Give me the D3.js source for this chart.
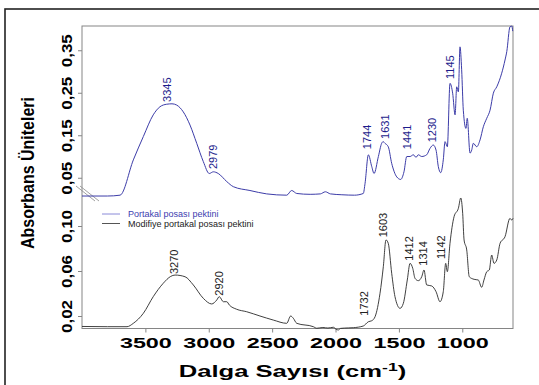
<!DOCTYPE html>
<html>
<head>
<meta charset="utf-8">
<script src="https://cdn.jsdelivr.net/npm/d3@7"></script>
<style>
  body { margin: 0; background: #fff; }
  svg { display: block; font-family: "Liberation Sans", Arial, sans-serif; }
</style>
</head>
<body>
<svg width="539" height="385"></svg>
<script>
// ---- data ----
// top spectrum: Portakal posası pektini (blue)
const topWn = [4000, 3800, 3700, 3595, 3516, 3438, 3385, 3332, 3290, 3253, 3201, 3148, 3095, 3043, 2996, 2964, 2925,
  2858, 2806, 2675, 2543, 2385, 2346, 2306, 2200, 2120, 2080, 2040, 1950, 1850, 1781, 1767, 1741, 1714, 1696, 1662,
  1636, 1625, 1610, 1584, 1557, 1517, 1486, 1460, 1438, 1412, 1386, 1365, 1347, 1320, 1281, 1255, 1229, 1207, 1189,
  1170, 1150, 1136, 1118, 1097, 1076, 1057, 1044, 1031, 1018, 1005, 992, 971, 961, 939, 926, 913, 886, 860, 834,
  807, 781, 755, 728, 689, 663, 649, 624, 610, 602];
const topAbs = [0.007, 0.007, 0.009, 0.092, 0.147, 0.198, 0.217, 0.223, 0.224, 0.221, 0.205, 0.174, 0.131, 0.088,
  0.060, 0.064, 0.060, 0.041, 0.029, 0.020, 0.012, 0.009, 0.020, 0.013, 0.011, 0.012, 0.017, 0.012, 0.010, 0.009,
  0.013, 0.037, 0.104, 0.076, 0.060, 0.100, 0.131, 0.135, 0.131, 0.123, 0.084, 0.052, 0.046, 0.064, 0.100, 0.100,
  0.104, 0.098, 0.104, 0.100, 0.104, 0.119, 0.127, 0.115, 0.076, 0.062, 0.092, 0.135, 0.123, 0.272, 0.249, 0.198,
  0.264, 0.252, 0.358, 0.304, 0.209, 0.166, 0.190, 0.108, 0.115, 0.131, 0.123, 0.139, 0.170, 0.190, 0.209, 0.249,
  0.264, 0.296, 0.327, 0.347, 0.405, 0.407, 0.395];

// bottom spectrum: Modifiye portakal posası pektini (black)
const botWn = [4000, 3800, 3645, 3595, 3516, 3438, 3359, 3300, 3266, 3187, 3122, 3043, 2977, 2937, 2917, 2885, 2858,
  2838, 2780, 2701, 2596, 2491, 2385, 2354, 2333, 2306, 2175, 2148, 2100, 2060, 2017, 1995, 1978, 1960, 1900, 1860,
  1781, 1741, 1714, 1688, 1649, 1623, 1602, 1584, 1557, 1531, 1491, 1465, 1434, 1412, 1391, 1373, 1347, 1320, 1302,
  1281, 1241, 1207, 1176, 1150, 1131, 1118, 1097, 1065, 1031, 1012, 997, 986, 965, 945, 907, 874, 847, 829, 807, 787,
  768, 750, 728, 702, 663, 624, 610, 600];
const botAbs = [0.0107, 0.0105, 0.0105, 0.0135, 0.0224, 0.0372, 0.0491, 0.0552, 0.0564, 0.0549, 0.0476, 0.0357,
  0.0307, 0.0342, 0.0372, 0.0327, 0.0327, 0.0298, 0.0260, 0.0238, 0.0200, 0.0164, 0.0135, 0.0200, 0.0180, 0.0135,
  0.0105, 0.0091, 0.0098, 0.0093, 0.0100, 0.0082, 0.0076, 0.0090, 0.0094, 0.0096, 0.0111, 0.0149, 0.0158, 0.0194,
  0.0402, 0.0638, 0.0876, 0.0846, 0.0580, 0.0372, 0.0268, 0.0313, 0.0520, 0.0668, 0.0624, 0.0535, 0.0514, 0.0549,
  0.0609, 0.0476, 0.0467, 0.0416, 0.0327, 0.0416, 0.0668, 0.0594, 0.0846, 0.1083, 0.1157, 0.1249, 0.1113, 0.0876,
  0.0787, 0.0549, 0.0526, 0.0520, 0.0455, 0.0520, 0.0594, 0.0609, 0.0742, 0.0668, 0.0698, 0.0846, 0.0905, 0.1068,
  0.1053, 0.1068];

// peak annotations (text, where it sits in wavenumber / absorbance)
const topPeakText = ["3345", "2979", "1744", "1631", "1441", "1230", "1145"];
const topPeakWn = [3325, 2967, 1754, 1610, 1436, 1241, 1093];
const topPeakAbs = [0.226, 0.068, 0.115, 0.139, 0.115, 0.131, 0.280];
const botPeakText = ["3270", "2920", "1732", "1603", "1412", "1314", "1142"];
const botPeakWn = [3270, 2921, 1775, 1623, 1420, 1312, 1169];
const botPeakAbs = [0.0564, 0.0372, 0.0194, 0.0891, 0.0683, 0.0638, 0.0698];

const xTicks = [3500, 3000, 2500, 2000, 1500, 1000];
const topTicks = [0.05, 0.15, 0.25, 0.35];
const botTicks = [0.02, 0.06, 0.10];
const seriesNames = ["Portakal posası pektini", "Modifiye portakal posası pektini"];

// ---- layout ----
const plot = { left: 82, right: 513, top: 26, bottom: 328.5 };
const blue = "#3c3ca8", dark = "#2a2a2a", frame = "#858585";

const svg = d3.select("svg");

// outer frame (runs off the right/bottom edge)
svg.append("rect")
  .attr("x", 5).attr("y", 9).attr("width", 600).attr("height", 500)
  .attr("fill", "none").attr("stroke", "#222").attr("stroke-width", 1.6);

const x = d3.scaleLinear().domain([4000, 600]).range([plot.left, plot.right]);
const yTop = d3.scaleLinear().domain([0, 0.35]).range([199, 50.25]);
const yBot = d3.scaleLinear().domain([0, 0.10]).range([338.5, 226]);

const comma = d => d.toFixed(2).replace(".", ",");

// x axis
const gx = svg.append("g")
  .attr("transform", `translate(0,${plot.bottom})`)
  .call(d3.axisBottom(x).tickValues(xTicks).tickSize(4).tickFormat(d3.format("d")));
gx.select(".domain").remove();
gx.selectAll("line").attr("stroke", frame);
gx.selectAll("text")
  .attr("y", 19.5).attr("dy", null)
  .attr("fill", "#000")
  .style("font-size", "14px").style("font-weight", "bold")
  .attr("textLength", 52).attr("lengthAdjust", "spacingAndGlyphs");

// y axes (two stacked ranges)
function leftAxis(scale, ticks) {
  const g = svg.append("g")
    .attr("transform", `translate(${plot.left},0)`)
    .call(d3.axisLeft(scale).tickValues(ticks).tickSize(4).tickFormat(comma));
  g.select(".domain").remove();
  g.selectAll("line").attr("stroke", frame);
  g.selectAll("text")
    .attr("x", null).attr("dy", "0.35em")
    .attr("text-anchor", "middle")
    .attr("transform", "translate(-15,0) rotate(-90)")
    .attr("fill", "#000")
    .style("font-size", "14.5px").style("font-weight", "bold")
    .attr("textLength", 33).attr("lengthAdjust", "spacingAndGlyphs");
}
leftAxis(yTop, topTicks);
leftAxis(yBot, botTicks);

// plot frame
svg.append("rect")
  .attr("x", plot.left).attr("y", plot.top)
  .attr("width", plot.right - plot.left).attr("height", plot.bottom - plot.top)
  .attr("fill", "none").attr("stroke", frame).attr("stroke-width", 1);

// axis break mark
[0, 4].forEach(off => {
  svg.append("line")
    .attr("x1", 76 + off).attr("y1", 186)
    .attr("x2", 95 + off).attr("y2", 201)
    .attr("stroke", "#8a8a8a").attr("stroke-width", 0.8);
});

// spectra
const topData = topWn.map((w, i) => [w, topAbs[i]]);
const botData = botWn.map((w, i) => [w, botAbs[i]]);

svg.append("path")
  .datum(topData)
  .attr("fill", "none").attr("stroke", blue).attr("stroke-width", 1)
  .attr("d", d3.line().x(d => x(d[0])).y(d => yTop(d[1])).curve(d3.curveMonotoneX));

svg.append("path")
  .datum(botData)
  .attr("fill", "none").attr("stroke", dark).attr("stroke-width", 0.9)
  .attr("d", d3.line().x(d => x(d[0])).y(d => yBot(d[1])).curve(d3.curveMonotoneX));

// peak labels
function peakLabels(texts, wns, vals, scale, color) {
  svg.append("g").selectAll("text")
    .data(texts)
    .enter().append("text")
    .attr("transform", (d, i) => `translate(${x(wns[i])},${scale(vals[i]) - 1}) rotate(-90)`)
    .attr("dy", "0.35em")
    .attr("fill", color)
    .style("font-size", "11px")
    .text(d => d);
}
peakLabels(topPeakText, topPeakWn, topPeakAbs, yTop, "#1c1c8c");
peakLabels(botPeakText, botPeakWn, botPeakAbs, yBot, "#222");

// legend
const legend = svg.append("g");
[blue, "#555"].forEach((c, i) => {
  legend.append("line")
    .attr("x1", 102).attr("x2", 120)
    .attr("y1", 214 + i * 9.5).attr("y2", 214 + i * 9.5)
    .attr("stroke", i === 0 ? "#8a8ad8" : "#555").attr("stroke-width", 1);
  legend.append("text")
    .attr("x", 128).attr("y", 217 + i * 9.5)
    .attr("fill", i === 0 ? "#4040b0" : "#222")
    .style("font-size", "9px")
    .text(seriesNames[i]);
});

// axis titles
const xt = svg.append("text")
  .attr("transform", "translate(292.5,376.5) scale(1.6,1)")
  .attr("text-anchor", "middle")
  .style("font-size", "16px").style("font-weight", "bold");
xt.append("tspan").text("Dalga Sayısı (cm");
xt.append("tspan").attr("dy", -6).style("font-size", "11px").text("-1");
xt.append("tspan").attr("dy", 6).text(")");

svg.append("text")
  .attr("transform", "translate(34,173) rotate(-90)")
  .attr("text-anchor", "middle")
  .style("font-size", "19px").style("font-weight", "bold")
  .attr("textLength", 152).attr("lengthAdjust", "spacingAndGlyphs")
  .text("Absorbans Üniteleri");
</script>
</body>
</html>
